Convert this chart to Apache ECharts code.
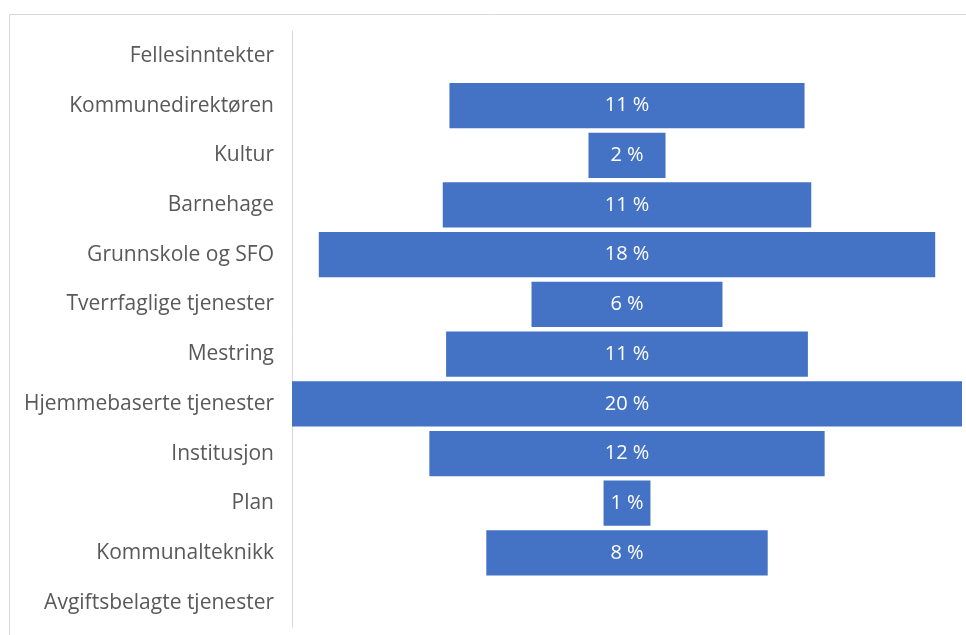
<!DOCTYPE html>
<html>
<head>
<meta charset="utf-8">
<script src="https://cdn.jsdelivr.net/npm/echarts@6/dist/echarts.min.js"></script>
<style>
  html, body { margin: 0; padding: 0; background: #fff; }
  #chart { width: 966px; height: 635px; }
</style>
</head>
<body>
<div id="chart"></div>
<script>
var categories = [
  "Fellesinntekter",
  "Kommunedirektøren",
  "Kultur",
  "Barnehage",
  "Grunnskole og SFO",
  "Tverrfaglige tjenester",
  "Mestring",
  "Hjemmebaserte tjenester",
  "Institusjon",
  "Plan",
  "Kommunalteknikk",
  "Avgiftsbelagte tjenester"
];
// share of budget, percent
var shares = [0, 10.6, 2.3, 11.0, 18.4, 5.7, 10.8, 20.0, 11.8, 1.4, 8.4, 0];

var maxShare = Math.max.apply(null, shares);
// invisible padding so every bar sits centred
var padding = shares.map(function (v) {
  return (maxShare - v) / 2;
});

var chart = echarts.init(document.getElementById("chart"));
var option = {
  animation: false,
  graphic: [
    {
      type: "rect",
      shape: { x: 9.5, y: 14.5, width: 1000, height: 700 },
      style: { fill: "none", stroke: "#d9d9d9", lineWidth: 1 },
      silent: true
    }
  ],
  grid: { left: 292, right: 4, top: 31, bottom: 7.5 },
  xAxis: {
    type: "value",
    min: 0,
    max: maxShare,
    show: false
  },
  yAxis: {
    type: "category",
    inverse: true,
    data: categories,
    axisTick: { show: false },
    axisLine: { lineStyle: { color: "#d9d9d9" } },
    axisLabel: {
      margin: 18,
      color: "#595959",
      fontFamily: "Open Sans",
      fontSize: 21
    }
  },
  series: [
    {
      type: "bar",
      stack: "s",
      data: padding,
      itemStyle: { color: "transparent" },
      silent: true
    },
    {
      type: "bar",
      stack: "s",
      data: shares,
      barCategoryGap: "9%",
      itemStyle: { color: "#4472c4" },
      label: {
        show: true,
        position: "inside",
        color: "#fff",
        fontFamily: "Open Sans",
        fontSize: 20,
        formatter: function (p) {
          return p.value > 0 ? Math.round(p.value) + " %" : "";
        }
      }
    }
  ]
};
chart.setOption(option);
</script>
</body>
</html>
